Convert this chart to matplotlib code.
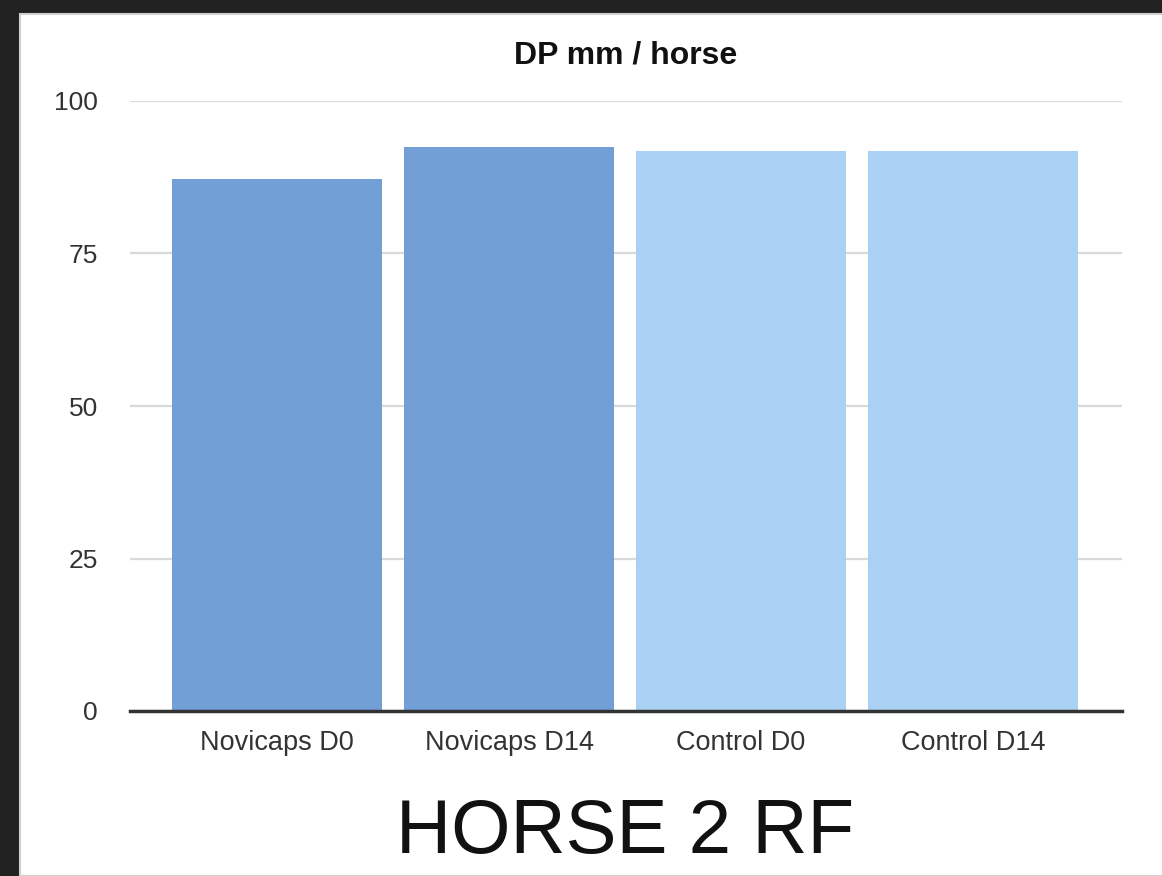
import matplotlib.pyplot as plt
from matplotlib.patches import Rectangle

groups = ["Novicaps D0", "Novicaps D14", "Control D0", "Control D14"]
dp_mm = [87.2, 92.5, 91.8, 91.8]
bar_colors = ["#729fd6", "#729fd6", "#aad0f4", "#aad0f4"]
y_ticks = [0, 25, 50, 75, 100]

plt.rcParams["font.family"] = ["Liberation Sans", "DejaVu Sans"]

fig = plt.figure(figsize=(11.62, 8.76), dpi=100, facecolor="#222222")

# white slide panel inside the dark frame
panel = Rectangle((20 / 1162, 0), 1.0, 1 - 14 / 876, transform=fig.transFigure,
                  facecolor="white", edgecolor="#cfcfcf", linewidth=1.5, zorder=-5)
fig.patches.append(panel)

ax = fig.add_axes([130 / 1162, 1 - 711 / 876, 992 / 1162, 610 / 876])
ax.set_facecolor("none")
ax.set_zorder(2)

x = range(len(groups))
ax.bar(x, dp_mm, width=0.905, color=bar_colors, zorder=2)

ax.set_xlim(-0.634, 3.642)
ax.set_ylim(0, 100)
ax.set_yticks(y_ticks)
ax.set_xticks(list(x))
ax.set_xticklabels(groups)

ax.tick_params(axis="y", length=0, pad=23, labelsize=19, labelcolor="#333333")
ax.tick_params(axis="x", length=0, pad=14, labelsize=19.5, labelcolor="#333333")

ax.grid(True, axis="y", color="#d9d9d9", linewidth=1.6, zorder=1)
ax.set_axisbelow(True)
for side in ["top", "right", "left"]:
    ax.spines[side].set_visible(False)
ax.spines["bottom"].set_color("#333333")
ax.spines["bottom"].set_linewidth(2.5)
ax.spines["bottom"].set_zorder(3)

fig.text(626 / 1162, 1 - 63 / 876, "DP mm / horse", ha="center", va="baseline",
         fontsize=23, fontweight="bold", color="#111111")
fig.text(625 / 1162, 1 - 853 / 876, "HORSE 2 RF", ha="center", va="baseline",
         fontsize=55, color="#111111")

fig.savefig("out.png", dpi=100, facecolor=fig.get_facecolor())
